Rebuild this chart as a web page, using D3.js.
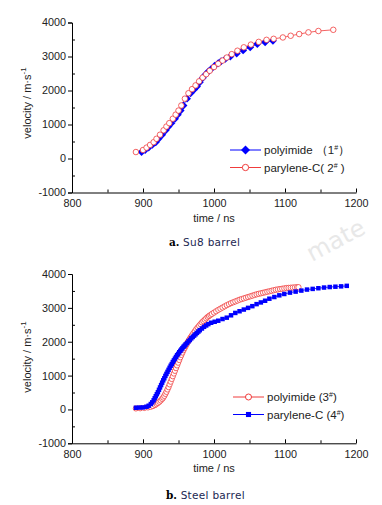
<!DOCTYPE html>
<html><head><meta charset="utf-8">
<script src="https://cdn.jsdelivr.net/npm/d3@7"></script>
<style>body{margin:0;background:#fff}svg{display:block}</style>
</head><body>
<script>
// ---------- DATA ----------
const xTicks = [800, 900, 1000, 1100, 1200];
const yTicks = [-1000, 0, 1000, 2000, 3000, 4000];

// Panel a (Su8 barrel)
const polyimide1 = [[898,190],[903,250],[908,320],[913,400],[918,480],[922,580],[927,700],[932,830],[936,940],[940,1040],[945,1170],[949,1290],[953,1410],[957,1560],[962,1760],[967,1920],[972,2030],[976,2120],[980,2240],[984,2370],[988,2470],[992,2560],[996,2630],[1001,2730],[1006,2800],[1010,2860],[1016,2930],[1023,3000],[1032,3090],[1041,3180],[1051,3270],[1061,3370],[1072,3420],[1083,3460]];
const parylene2 = [[890,190],[900,250],[905,320],[910,400],[915,480],[919,580],[924,700],[929,830],[933,940],[937,1040],[942,1170],[946,1290],[950,1410],[954,1560],[959,1760],[964,1920],[969,2040],[974,2150],[979,2270],[984,2380],[989,2480],[994,2580],[1000,2690],[1006,2790],[1012,2880],[1018,2970],[1025,3070],[1033,3170],[1042,3270],[1052,3350],[1063,3430],[1074,3490],[1084,3520],[1097,3560],[1108,3610],[1120,3660],[1133,3710],[1147,3750],[1168,3785]];

// Panel b (Steel barrel)
const polyimide3 = [[890,30],[896,35],[902,45],[907,60],[911,80],[914,100],[917,130],[919,160],[921,190],[923,225],[925,265],[927,310],[928.5,350],[930,400],[931.5,460],[933,520],[934.5,590],[936,660],[937.5,740],[939,820],[940.5,900],[942,980],[943.5,1060],[945,1140],[946.5,1220],[948,1300],[949.5,1380],[951,1460],[952.5,1540],[954,1610],[955.5,1680],[957,1750],[958.5,1810],[960,1870],[961.5,1930],[963,1990],[964.5,2040],[966,2090],[967.5,2140],[969,2190],[971,2250],[973,2310],[975,2370],[977,2420],[979,2470],[981,2520],[983,2570],[985,2610],[987,2650],[989,2690],[991,2730],[993,2760],[995,2790],[997,2820],[1000,2860],[1003,2900],[1006,2940],[1009,2975],[1012,3010],[1015,3045],[1018,3080],[1021,3110],[1024,3140],[1027,3165],[1030,3190],[1033,3215],[1036,3240],[1039,3260],[1042,3280],[1045,3300],[1048,3320],[1051,3340],[1054,3360],[1057,3380],[1060,3400],[1063,3415],[1066,3430],[1069,3445],[1072,3460],[1075,3475],[1078,3490],[1081,3505],[1084,3520],[1087,3535],[1090,3545],[1093,3555],[1096,3565],[1099,3575],[1102,3585],[1105,3590],[1108,3595],[1111,3600],[1114,3605],[1117,3610],[1119,3610]];
const parylene4 = [[890,50],[895,55],[900,60],[905,80],[908,110],[911,160],[913,210],[915,270],[916.5,330],[918,390],[919.5,450],[921,510],[922.5,580],[924,650],[925.5,720],[927,790],[928.5,860],[930,920],[931.5,990],[933,1050],[934.5,1110],[936,1170],[937.5,1230],[939,1290],[940.5,1340],[942,1400],[943.5,1450],[945,1500],[946.5,1550],[948,1600],[949.5,1640],[951,1690],[952.5,1730],[954,1770],[955.5,1810],[957,1850],[958.5,1880],[960,1920],[962,1960],[964,2010],[966,2050],[968,2100],[970,2140],[972,2180],[974,2220],[976,2260],[978,2300],[980,2340],[983,2390],[986,2440],[989,2480],[992,2520],[996,2560],[1001,2590],[1006,2620],[1012,2670],[1018,2710],[1024,2780],[1030,2850],[1036,2900],[1042,2950],[1048,3000],[1054,3050],[1060,3110],[1066,3160],[1072,3210],[1078,3270],[1085,3320],[1092,3370],[1099,3410],[1107,3450],[1115,3480],[1123,3510],[1131,3540],[1139,3560],[1147,3580],[1155,3600],[1163,3615],[1171,3625],[1179,3635],[1187,3650]];

// ---------- DRAW ----------
const W = 382, H = 505;
const BLUE = "#0000ff", RED = "#f03c3c";
const svg = d3.select("body").append("svg").attr("width", W).attr("height", H);
const FONT = "'Liberation Sans', Arial, sans-serif";
const fmt = d => String(d);

function panel(cfg) {
  const x = d3.scaleLinear().domain([800, 1200]).range([72, 356]);
  const y = d3.scaleLinear().domain([-1000, 4000]).range([cfg.y0, cfg.y1]);
  const g = svg.append("g");

  // axes
  const xa = g.append("g").attr("transform", `translate(0,${cfg.y0})`)
    .call(d3.axisBottom(x).tickValues(xTicks).tickSize(0).tickPadding(7).tickFormat(fmt));
  xa.select(".domain").attr("stroke", "#000").attr("stroke-width", 1);
  xa.selectAll("text").attr("font-family", FONT).attr("font-size", 10.8).attr("fill", "#222");
  g.append("g").attr("transform", `translate(0,${cfg.y0})`)
    .call(d3.axisBottom(x).tickValues(xTicks).tickSize(-4).tickFormat(""))
    .call(s => s.select(".domain").remove());
  g.append("g").attr("transform", `translate(0,${cfg.y0})`)
    .call(d3.axisBottom(x).tickValues(d3.range(850, 1200, 100)).tickSize(-3).tickFormat(""))
    .call(s => s.select(".domain").remove());

  const ya = g.append("g").attr("transform", `translate(72,0)`)
    .call(d3.axisLeft(y).tickValues(yTicks).tickSize(4).tickPadding(2).tickFormat(fmt));
  ya.select(".domain").attr("stroke", "#000");
  ya.selectAll("text").attr("font-family", FONT).attr("font-size", 10.8).attr("fill", "#222");
  g.append("g").attr("transform", `translate(72,0)`)
    .call(d3.axisLeft(y).tickValues(d3.range(-500, 4000, 1000)).tickSize(-3).tickFormat(""))
    .call(s => s.select(".domain").remove());

  // axis titles
  g.append("text").attr("x", 214).attr("y", cfg.y0 + 29).attr("text-anchor", "middle")
    .attr("font-family", FONT).attr("font-size", 11).attr("fill", "#222").text("time / ns");
  const yl = g.append("text").attr("transform", `translate(31,${cfg.ly}) rotate(-90)`)
    .attr("text-anchor", "middle").attr("font-family", FONT).attr("font-size", 11).attr("fill", "#222");
  yl.append("tspan").text("velocity / m·s");
  yl.append("tspan").attr("dy", -5).attr("font-size", 8).text("-1");

  // series
  const line = d3.line().x(d => x(d[0])).y(d => y(d[1]));
  cfg.series.forEach(s => {
    g.append("path").datum(s.data).attr("d", line).attr("fill", "none")
      .attr("stroke", s.color).attr("stroke-width", 0.8);
  });
  cfg.series.forEach(s => {
    const sym = d3.symbol().type(s.sym).size(s.size);
    g.append("g").selectAll("path").data(s.data).join("path")
      .attr("transform", d => `translate(${x(d[0])},${y(d[1])})`)
      .attr("d", sym)
      .attr("fill", s.open ? "#fff" : s.color)
      .attr("stroke", s.open ? s.color : "none")
      .attr("stroke-width", 0.8);
  });

  // legend
  cfg.series.forEach((s, i) => {
    const ly = cfg.legY + i * 17.5;
    const lx = cfg.legX;
    g.append("line").attr("x1", lx).attr("x2", lx + 31).attr("y1", ly).attr("y2", ly)
      .attr("stroke", s.color).attr("stroke-width", 1);
    g.append("path").attr("transform", `translate(${lx + 15.5},${ly})`)
      .attr("d", d3.symbol().type(s.sym).size(s.size * 1.3)())
      .attr("fill", s.open ? "#fff" : s.color).attr("stroke", s.open ? s.color : "none");
    const t = g.append("text").attr("x", lx + 34).attr("y", ly + 4)
      .attr("font-family", FONT).attr("font-size", 11.5).attr("fill", "#222");
    t.append("tspan").text(s.label[0]);
    t.append("tspan").attr("dy", -4).attr("font-size", 7).text("#");
    t.append("tspan").attr("dy", 4).text(s.label[1]);
  });

  // caption
  const c = g.append("text").attr("x", cfg.capX).attr("y", cfg.capY)
    .attr("font-family", "'DejaVu Sans', sans-serif").attr("font-size", 10.5);
  c.append("tspan").attr("font-family", "'DejaVu Serif', serif").attr("font-weight", "bold").attr("fill", "#000").text(cfg.cap[0]);
  c.append("tspan").attr("fill", "#1c2752").attr("letter-spacing", 0.3).text(cfg.cap[1]);
}

panel({
  y0: 192.5, y1: 22.5, ly: 103, legX: 230, legY: 150, capX: 169, capY: 246,
  cap: ["a.", "  Su8  barrel"],
  series: [
    {data: polyimide1, color: BLUE, sym: d3.symbolDiamond2, size: 40, open: false, label: ["polyimide （1", "）"]},
    {data: parylene2, color: RED, sym: d3.symbolCircle, size: 24, open: true, label: ["parylene-C( 2", " )"]}
  ]
});
panel({
  y0: 443.3, y1: 274, ly: 357, legX: 233, legY: 397, capX: 166, capY: 499,
  cap: ["b.", "  Steel  barrel"],
  series: [
    {data: polyimide3, color: RED, sym: d3.symbolCircle, size: 22, open: true, label: ["polyimide   (3", ")"]},
    {data: parylene4, color: BLUE, sym: d3.symbolSquare, size: 20, open: false, label: ["parylene-C (4", ")"]}
  ]
});

// watermark
svg.append("text").attr("transform", "translate(312,262) rotate(-28)")
  .attr("font-family", "'DejaVu Sans', sans-serif").attr("font-size", 24).attr("fill", "#e8e8e8")
  .text("mate");
</script>
</body></html>
